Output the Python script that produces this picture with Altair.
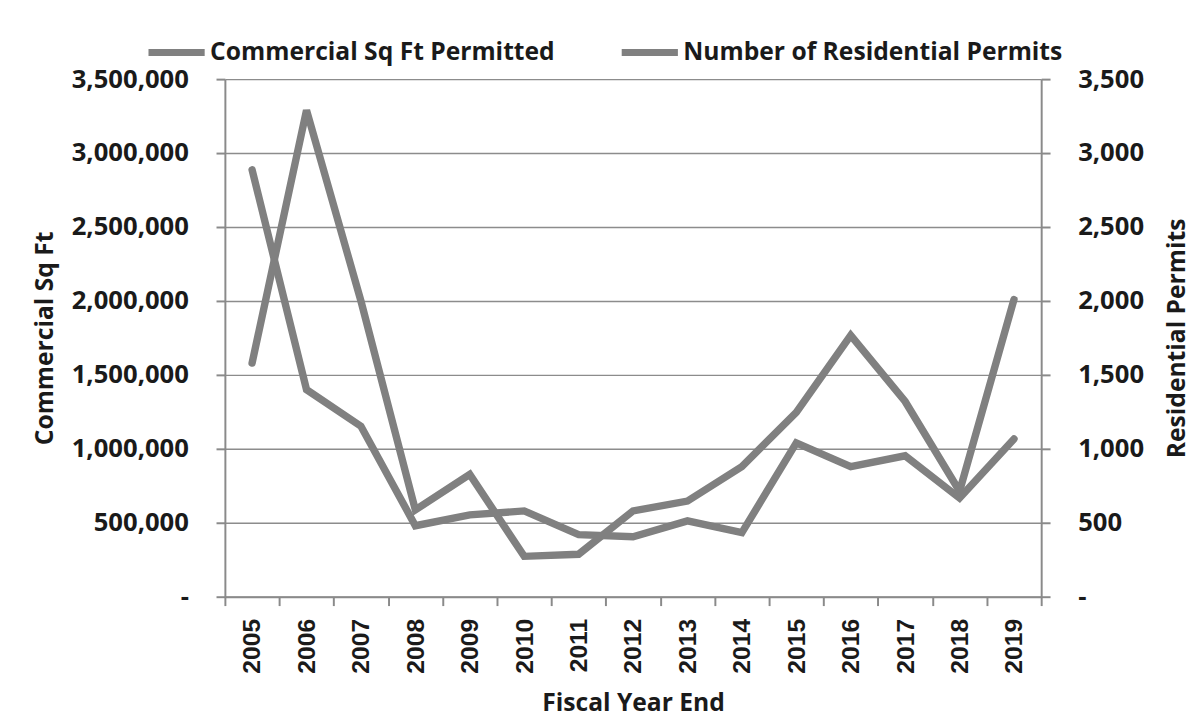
import altair as alt
import pandas as pd

years = [str(y) for y in range(2005, 2020)]
commercial_sqft = [1580000, 3290000, 2000000, 587000, 827000, 273000, 287000,
                   580000, 647000, 880000, 1247000, 1767000, 1320000, 713000, 2010000]
residential_permits = [2887, 1400, 1153, 480, 553, 580, 420, 405, 513, 433,
                       1040, 880, 953, 667, 1067]
series_names = ["Commercial Sq Ft Permitted", "Number of Residential Permits"]
left_ticks = [0, 500000, 1000000, 1500000, 2000000, 2500000, 3000000, 3500000]
right_ticks = [0, 500, 1000, 1500, 2000, 2500, 3000, 3500]

df_c = pd.DataFrame({"year": years, "value": commercial_sqft, "series": series_names[0]})
df_r = pd.DataFrame({"year": years, "value": residential_permits, "series": series_names[1]})

FONT = "Open Sans"
LINE = "#808080"
AX = "#8a8a8a"
TXT = "#1a1a1a"

common_axis = dict(domainColor=AX, domainWidth=2, tickColor=AX, tickWidth=2, tickSize=9,
                   gridColor="#8c8c8c", gridWidth=1.5,
                   labelFont=FONT, labelFontSize=26, labelFontWeight="bold", labelColor=TXT,
                   titleFont=FONT, titleFontSize=25, titleFontWeight="bold", titleColor=TXT)

color = alt.Color("series:N",
                  scale=alt.Scale(domain=series_names, range=[LINE, LINE]),
                  legend=alt.Legend(title=None, orient="none", legendX=-81, legendY=-59,
                                    direction="horizontal", symbolType="stroke",
                                    symbolSize=3249, symbolStrokeWidth=7,
                                    symbolStrokeColor="#505050",
                                    labelFont=FONT, labelFontSize=25, labelFontWeight="bold",
                                    labelColor=TXT, labelOffset=2, columnPadding=53,
                                    labelLimit=600))

x_axis = dict(common_axis)
x_axis.update(labelFont="Liberation Sans", labelFontSize=25)
x = alt.X("year:O", sort=years,
          scale=alt.Scale(type="band", paddingInner=0, paddingOuter=0),
          axis=alt.Axis(title="Fiscal Year End", labelAngle=270, tickBand="extent",
                        labelPadding=13, titlePadding=18, grid=False, **x_axis))

left = alt.Chart(df_c).mark_line(strokeWidth=7.5, strokeCap="round").encode(
    x=x,
    y=alt.Y("value:Q", scale=alt.Scale(domain=[0, 3500000], nice=False),
            axis=alt.Axis(title="Commercial Sq Ft", values=left_ticks, orient="left",
                          labelExpr="datum.value == 0 ? '-\u00a0\u00a0' : format(datum.value, ',')",
                          labelPadding=28, titlePadding=14, grid=True, **common_axis)),
    color=color,
)

right = alt.Chart(df_r).mark_line(strokeWidth=7.5, strokeCap="round").encode(
    x=x,
    y=alt.Y("value:Q", scale=alt.Scale(domain=[0, 3500], nice=False),
            axis=alt.Axis(title="Residential Permits", values=right_ticks, orient="right",
                          labelExpr="datum.value == 0 ? '-' : format(datum.value, ',')",
                          labelPadding=28, titlePadding=46, titleAngle=270, grid=False,
                          **common_axis)),
    color=color,
)

chart = alt.layer(left, right).resolve_scale(y="independent").properties(
    width=828, height=525, background="white",
    padding={"left": 25, "top": 8, "right": 5, "bottom": 5}
).configure_view(stroke=None)

chart.save("out.html", embed_options={"renderer": "svg", "actions": False})
